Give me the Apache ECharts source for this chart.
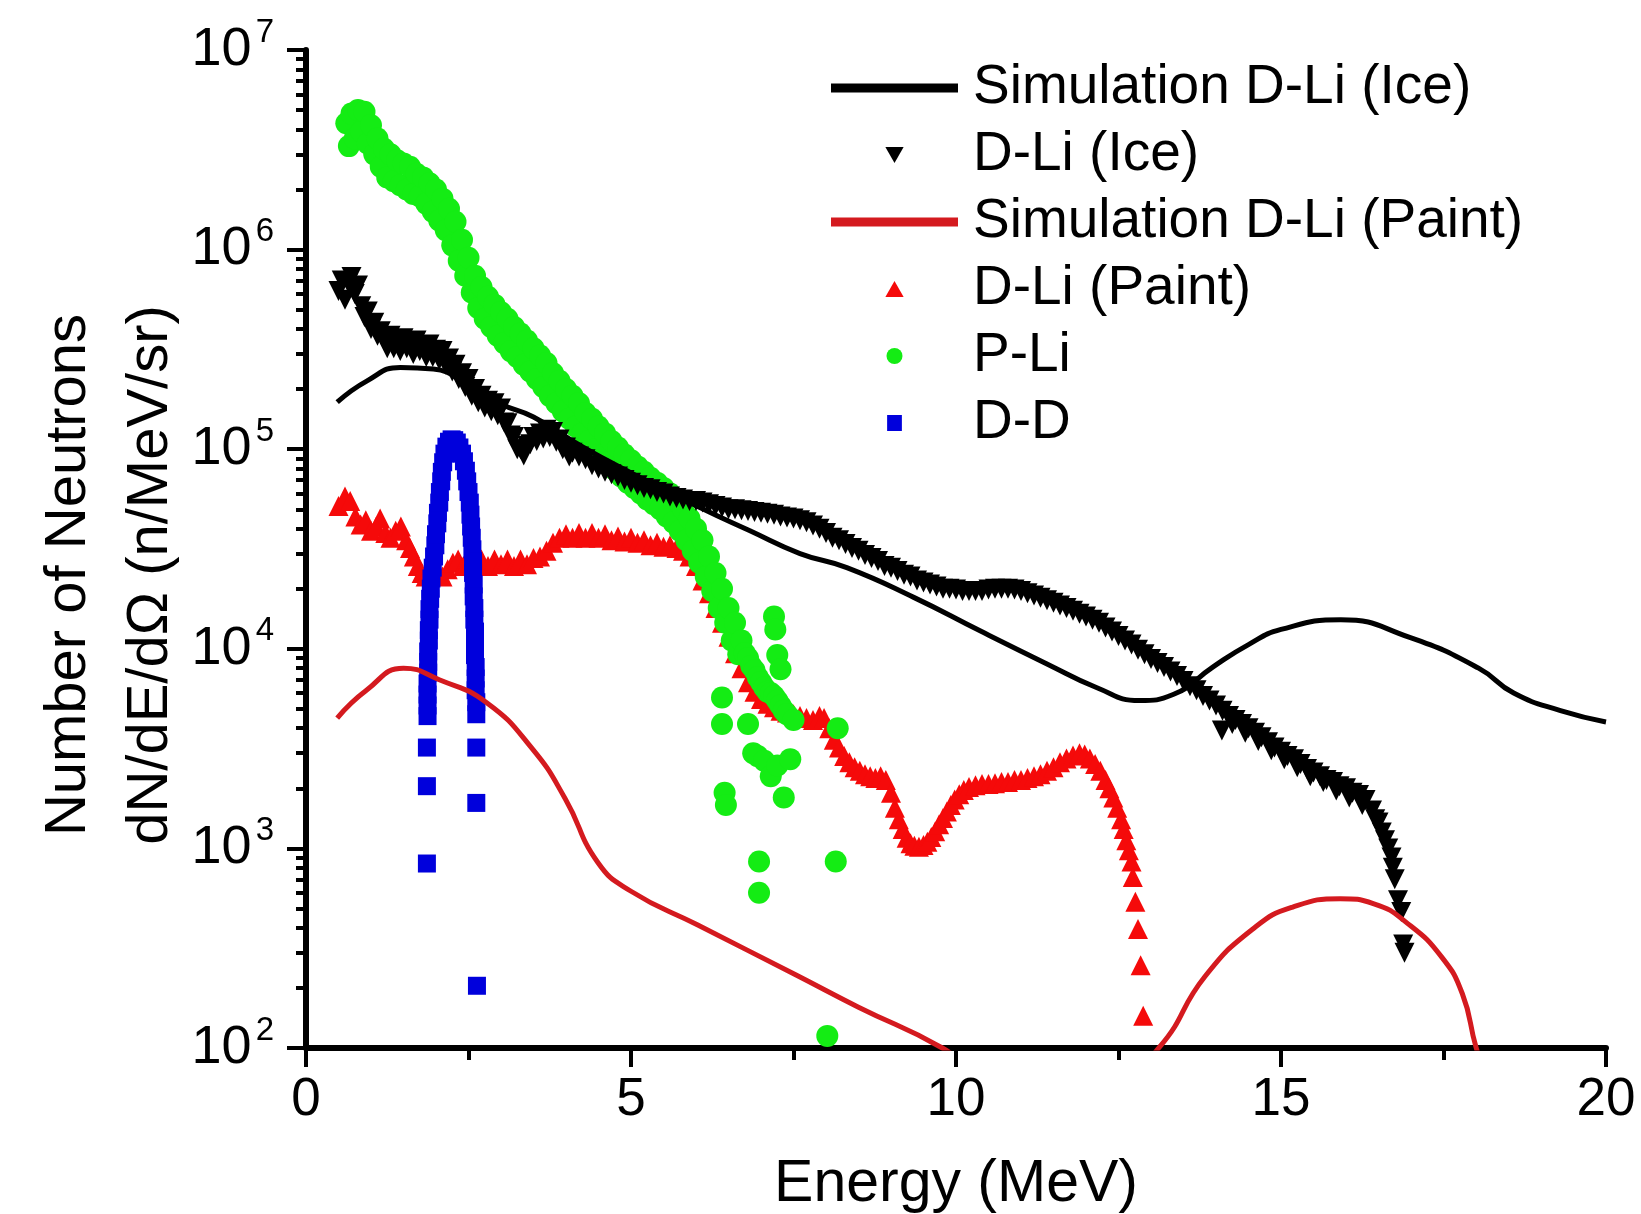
<!DOCTYPE html>
<html>
<head>
<meta charset="utf-8">
<script src="https://cdn.jsdelivr.net/npm/echarts@6/dist/echarts.min.js"></script>
<style>
html,body{margin:0;padding:0;background:#fff;}
#chart{width:1641px;height:1214px;}
</style>
</head>
<body>
<div id="chart"></div>
<script>
// ---------- data (Energy in MeV, dN/dE/dΩ) ----------
const seriesNames = ['Simulation D-Li (Ice)','D-Li (Ice)','Simulation D-Li (Paint)','D-Li (Paint)','P-Li','D-D'];

const simIce = [[0.48,1.72e5],[0.94,2.2e5],[1.45,2.57e5],[1.96,2.52e5],[2.48,2.12e5],[2.99,1.69e5],[3.5,1.45e5],[4.27,1.02e5],[5.04,7.5e4],[6.06,5.1e4],[6.83,3.9e4],[7.6,3.0e4],[8.32,2.55e4],[9.35,1.81e4],[10.37,1.23e4],[11.4,8.4e3],[12.16,6.4e3],[12.82,5.5e3],[13.34,5.9e3],[13.95,8.1e3],[14.5,1.05e4],[15.0,1.25e4],[15.92,1.4e4],[16.98,1.14e4],[18.04,8.0e3],[18.58,6.0e3],[19.3,4.9e3],[20,4.3e3]];

const simPaint = [[0.48,4.5e3],[0.93,6.2e3],[1.5,8.0e3],[2.05,7.0e3],[2.77,5.4e3],[3.48,3.16e3],[3.99,1.77e3],[4.49,8.5e2],[5.0,6.1e2],[6.02,4.14e2],[7.54,2.32e2],[8.5,1.6e2],[9.79,1.0e2],[11.0,55],[12.2,55],[13.13,1.01e2],[13.83,2.28e2],[14.61,4.05e2],[15.18,5.08e2],[15.91,5.6e2],[16.43,5.28e2],[16.95,4.2e2],[17.47,2.86e2],[17.79,1.87e2],[18.0,1.01e2],[18.3,50]];

const dliIce = [[0.5,6.2e5],[0.55,7.0e5],[0.6,5.6e5],[0.65,6.8e5],[0.7,7.3e5],[0.75,6.0e5],[0.8,6.6e5],[0.85,5.2e5],[0.9,4.6e5],[0.95,4.9e5],[1.0,4.0e5],[1.05,4.3e5],[1.1,3.7e5],[1.15,3.9e5],[1.2,3.5e5],[1.25,3.2e5],[1.3,3.7e5],[1.35,3.2e5],[1.4,3.5e5],[1.45,3.1e5],[1.5,3.6e5],[1.55,3.2e5],[1.6,3.4e5],[1.65,3.0e5],[1.7,3.5e5],[1.75,3.1e5],[1.8,3.3e5],[1.85,2.9e5],[1.9,3.35e5],[1.95,2.9e5],[2.0,3.15e5],[2.05,2.8e5],[2.1,3.1e5],[2.15,2.65e5],[2.2,2.85e5],[2.25,2.45e5],[2.3,2.65e5],[2.35,2.25e5],[2.4,2.4e5],[2.45,2.05e5],[2.5,2.25e5],[2.55,1.85e5],[2.6,2.0e5],[2.65,1.72e5],[2.7,1.85e5],[2.75,1.62e5],[2.8,1.75e5],[2.85,1.55e5],[2.9,1.7e5],[2.95,1.48e5],[3.0,1.6e5],[3.05,1.36e5],[3.1,1.35e5],[3.15,1.17e5],[3.2,1.15e5],[3.25,1.0e5],[3.3,1.0e5],[3.35,9.3e4],[3.4,1.04e5],[3.45,1.06e5],[3.5,1.15e5],[3.55,1.1e5],[3.6,1.2e5],[3.65,1.13e5],[3.7,1.25e5],[3.75,1.15e5],[3.8,1.22e5],[3.85,1.09e5],[3.9,1.12e5],[3.95,1.0e5],[4.0,1.02e5],[4.05,9.2e4],[4.1,9.6e4],[4.2,9.2e4],[4.3,8.9e4],[4.4,8.3e4],[4.5,8.0e4],[4.6,7.7e4],[4.7,7.5e4],[4.8,7.3e4],[4.9,7.0e4],[5.0,6.8e4],[5.1,6.6e4],[5.2,6.4e4],[5.3,6.3e4],[5.4,6.1e4],[5.5,6.0e4],[5.6,5.8e4],[5.7,5.7e4],[5.8,5.6e4],[5.9,5.5e4],[6.0,5.5e4],[6.1,5.4e4],[6.2,5.3e4],[6.3,5.2e4],[6.4,5.1e4],[6.5,5.0e4],[6.6,5.0e4],[6.7,4.95e4],[6.8,4.9e4],[6.9,4.85e4],[7.0,4.8e4],[7.1,4.75e4],[7.2,4.7e4],[7.3,4.6e4],[7.4,4.55e4],[7.5,4.5e4],[7.6,4.4e4],[7.7,4.3e4],[7.8,4.15e4],[7.9,4.0e4],[8.0,3.8e4],[8.1,3.6e4],[8.2,3.5e4],[8.3,3.35e4],[8.4,3.2e4],[8.5,3.1e4],[8.6,2.95e4],[8.7,2.85e4],[8.8,2.75e4],[8.9,2.6e4],[9.0,2.55e4],[9.1,2.45e4],[9.2,2.35e4],[9.3,2.3e4],[9.4,2.2e4],[9.5,2.15e4],[9.6,2.1e4],[9.7,2.05e4],[9.8,2.0e4],[9.9,2.0e4],[10.0,1.98e4],[10.1,1.95e4],[10.2,1.95e4],[10.3,1.95e4],[10.4,1.95e4],[10.5,1.98e4],[10.6,2.0e4],[10.7,2.0e4],[10.8,2.0e4],[10.9,1.98e4],[11.0,1.95e4],[11.1,1.9e4],[11.2,1.85e4],[11.3,1.8e4],[11.4,1.75e4],[11.5,1.7e4],[11.6,1.65e4],[11.7,1.6e4],[11.8,1.55e4],[11.9,1.5e4],[12.0,1.45e4],[12.1,1.4e4],[12.2,1.35e4],[12.3,1.28e4],[12.4,1.22e4],[12.5,1.16e4],[12.6,1.1e4],[12.7,1.05e4],[12.8,9.9e3],[12.9,9.4e3],[13.0,8.9e3],[13.1,8.5e3],[13.2,8.1e3],[13.3,7.7e3],[13.4,7.3e3],[13.5,6.9e3],[13.6,6.5e3],[13.7,6.2e3],[13.8,5.8e3],[13.9,5.5e3],[14.0,5.2e3],[14.09,3.9e3],[14.1,4.9e3],[14.2,4.6e3],[14.25,4.2e3],[14.3,4.4e3],[14.4,4.2e3],[14.45,3.8e3],[14.5,4.0e3],[14.6,3.8e3],[14.65,3.45e3],[14.7,3.6e3],[14.8,3.4e3],[14.85,3.1e3],[14.9,3.2e3],[15.0,3.05e3],[15.05,2.8e3],[15.1,2.9e3],[15.2,2.8e3],[15.25,2.55e3],[15.3,2.65e3],[15.4,2.5e3],[15.45,2.3e3],[15.5,2.4e3],[15.6,2.3e3],[15.65,2.15e3],[15.7,2.2e3],[15.8,2.15e3],[15.85,1.95e3],[15.9,2.05e3],[16.0,2.0e3],[16.05,1.8e3],[16.1,1.9e3],[16.2,1.85e3],[16.25,1.65e3],[16.3,1.75e3],[16.4,1.55e3],[16.45,1.4e3],[16.5,1.35e3],[16.55,1.2e3],[16.6,1.1e3],[16.65,1.0e3],[16.7,9.0e2],[16.72,8.0e2],[16.75,7.0e2],[16.8,5.5e2],[16.85,4.8e2],[16.88,3.3e2],[16.9,3.0e2]];

const dliPaint = [[0.5,5.2e4],[0.6,5.8e4],[0.68,5.5e4],[0.76,4.6e4],[0.84,4.2e4],[0.92,4.4e4],[1.0,3.9e4],[1.08,4.1e4],[1.14,4.5e4],[1.22,3.8e4],[1.3,3.6e4],[1.38,3.9e4],[1.46,4.1e4],[1.54,3.5e4],[1.6,3.2e4],[1.66,2.9e4],[1.72,2.6e4],[1.78,2.4e4],[1.84,2.3e4],[1.9,2.5e4],[1.96,2.7e4],[2.02,2.4e4],[2.1,2.3e4],[2.18,2.5e4],[2.26,2.7e4],[2.34,2.8e4],[2.42,2.6e4],[2.5,2.8e4],[2.6,2.6e4],[2.7,2.8e4],[2.8,2.6e4],[2.9,2.8e4],[3.0,2.65e4],[3.1,2.8e4],[3.2,2.6e4],[3.3,2.8e4],[3.4,2.65e4],[3.5,2.85e4],[3.6,2.9e4],[3.7,3.1e4],[3.8,3.4e4],[3.9,3.6e4],[4.0,3.75e4],[4.1,3.6e4],[4.2,3.8e4],[4.3,3.6e4],[4.4,3.8e4],[4.5,3.6e4],[4.6,3.75e4],[4.7,3.5e4],[4.8,3.65e4],[4.9,3.45e4],[5.0,3.6e4],[5.1,3.4e4],[5.2,3.5e4],[5.3,3.3e4],[5.4,3.4e4],[5.5,3.25e4],[5.6,3.3e4],[5.7,3.2e4],[5.8,3.1e4],[5.9,2.9e4],[6.0,2.6e4],[6.1,2.2e4],[6.2,1.9e4],[6.3,1.6e4],[6.4,1.35e4],[6.5,1.15e4],[6.6,9.5e3],[6.7,8.0e3],[6.8,6.8e3],[6.9,6.1e3],[7.0,5.6e3],[7.1,5.3e3],[7.2,5.1e3],[7.3,4.9e3],[7.4,4.8e3],[7.5,4.7e3],[7.6,4.6e3],[7.7,4.5e3],[7.8,4.4e3],[7.9,4.6e3],[7.97,4.5e3],[8.05,4.0e3],[8.12,3.5e3],[8.2,3.2e3],[8.28,2.9e3],[8.36,2.7e3],[8.44,2.55e3],[8.52,2.45e3],[8.6,2.35e3],[8.68,2.3e3],[8.76,2.25e3],[8.84,2.3e3],[8.92,2.2e3],[9.0,1.9e3],[9.06,1.6e3],[9.12,1.4e3],[9.18,1.25e3],[9.24,1.13e3],[9.3,1.06e3],[9.36,1.03e3],[9.43,1.02e3],[9.5,1.04e3],[9.56,1.08e3],[9.62,1.14e3],[9.68,1.22e3],[9.74,1.32e3],[9.8,1.42e3],[9.86,1.53e3],[9.92,1.65e3],[9.98,1.76e3],[10.05,1.87e3],[10.12,1.96e3],[10.2,2.03e3],[10.3,2.07e3],[10.4,2.1e3],[10.5,2.1e3],[10.6,2.12e3],[10.7,2.15e3],[10.8,2.15e3],[10.9,2.2e3],[11.0,2.2e3],[11.1,2.25e3],[11.2,2.3e3],[11.3,2.35e3],[11.4,2.45e3],[11.5,2.55e3],[11.6,2.7e3],[11.7,2.82e3],[11.8,2.92e3],[11.9,3.0e3],[11.98,2.95e3],[12.06,2.82e3],[12.14,2.65e3],[12.22,2.45e3],[12.3,2.2e3],[12.36,2.0e3],[12.42,1.8e3],[12.48,1.6e3],[12.54,1.4e3],[12.58,1.25e3],[12.62,1.1e3],[12.66,9.8e2],[12.7,8.6e2],[12.72,7.2e2],[12.76,5.4e2],[12.8,3.95e2],[12.84,2.6e2],[12.88,1.45e2]];

const pli = [[0.62,4.3e6],[0.66,3.3e6],[0.7,4.8e6],[0.75,3.6e6],[0.8,5.0e6],[0.85,3.9e6],[0.9,4.9e6],[0.95,3.4e6],[1.0,4.2e6],[1.05,3.0e6],[1.1,3.6e6],[1.15,2.6e6],[1.2,3.2e6],[1.25,2.3e6],[1.3,3.0e6],[1.35,2.2e6],[1.4,2.8e6],[1.45,2.1e6],[1.5,2.7e6],[1.55,2.0e6],[1.6,2.6e6],[1.65,1.9e6],[1.7,2.4e6],[1.75,1.85e6],[1.8,2.3e6],[1.85,1.7e6],[1.9,2.15e6],[1.95,1.55e6],[2.0,2.0e6],[2.05,1.4e6],[2.1,1.8e6],[2.15,1.25e6],[2.2,1.6e6],[2.25,1.05e6],[2.3,1.38e6],[2.35,8.8e5],[2.4,1.12e6],[2.45,7.4e5],[2.5,9.1e5],[2.55,6.1e5],[2.6,7.4e5],[2.65,5.1e5],[2.7,6.5e5],[2.75,4.5e5],[2.8,5.8e5],[2.85,4.1e5],[2.9,5.3e5],[2.95,3.7e5],[3.0,4.85e5],[3.05,3.4e5],[3.1,4.5e5],[3.15,3.1e5],[3.2,4.1e5],[3.25,2.9e5],[3.3,3.8e5],[3.35,2.65e5],[3.4,3.5e5],[3.45,2.45e5],[3.5,3.2e5],[3.55,2.25e5],[3.6,2.95e5],[3.65,2.05e5],[3.7,2.7e5],[3.75,1.85e5],[3.8,2.4e5],[3.85,1.7e5],[3.9,2.2e5],[3.95,1.55e5],[4.0,2.0e5],[4.05,1.42e5],[4.1,1.85e5],[4.15,1.3e5],[4.2,1.7e5],[4.25,1.2e5],[4.3,1.52e5],[4.35,1.1e5],[4.4,1.42e5],[4.45,1.0e5],[4.5,1.3e5],[4.55,9.3e4],[4.6,1.2e5],[4.65,8.6e4],[4.7,1.1e5],[4.75,7.9e4],[4.8,1.02e5],[4.85,7.3e4],[4.9,9.4e4],[4.95,6.8e4],[5.0,8.8e4],[5.05,6.4e4],[5.1,8.2e4],[5.15,6.0e4],[5.2,7.7e4],[5.25,5.6e4],[5.3,7.2e4],[5.35,5.3e4],[5.4,6.8e4],[5.45,5.0e4],[5.5,6.4e4],[5.55,4.6e4],[5.6,6.0e4],[5.65,4.3e4],[5.7,5.5e4],[5.75,3.9e4],[5.8,5.0e4],[5.85,3.5e4],[5.9,4.5e4],[5.95,3.1e4],[6.0,4.0e4],[6.05,2.7e4],[6.1,3.5e4],[6.15,2.3e4],[6.2,2.9e4],[6.25,1.95e4],[6.3,2.4e4],[6.35,1.6e4],[6.4,2.0e4],[6.45,1.35e4],[6.5,1.6e4],[6.55,1.1e4],[6.6,1.35e4],[6.65,9.4e3],[6.7,1.1e4],[6.75,9.5e3],[6.8,9.0e3],[6.85,8.2e3],[6.9,7.8e3],[6.95,7.2e3],[7.0,6.8e3],[7.05,6.4e3],[7.1,6.1e3],[7.15,6.0e3],[7.2,5.8e3],[7.25,5.5e3],[7.3,5.2e3],[7.35,4.9e3],[7.4,4.7e3],[7.5,4.4e3],
[6.4,5.7e3],[6.4,4.2e3],[6.44,1.9e3],[6.46,1.65e3],[6.8,4.2e3],[6.88,3.0e3],[6.95,2.9e3],[7.05,2.75e3],[7.15,2.3e3],[7.25,2.6e3],[7.35,1.8e3],[7.45,2.8e3],[6.97,8.6e2],[6.97,6.0e2],[7.2,1.45e4],[7.22,1.25e4],[7.25,9.3e3],[7.3,7.9e3],[8.18,4.0e3],[8.15,8.6e2],[8.02,1.15e2]];

const dd = [[1.86,840],[1.86,2050],[1.86,3200],[1.87,4600],[1.87,5200],[1.87,5900],[1.87,6700],[1.88,7600],[1.88,8600],[1.88,9700],[1.89,11000],[1.89,12400],[1.9,14000],[1.9,15800],[1.91,17800],[1.92,20000],[1.93,22500],[1.95,25500],[1.97,29000],[1.99,33000],[2.0,37500],[2.02,42500],[2.03,48000],[2.05,54000],[2.06,61000],[2.08,69000],[2.09,77000],[2.11,86000],[2.13,95000],[2.16,103000],[2.2,109000],[2.24,112000],[2.28,111000],[2.32,108000],[2.36,102000],[2.4,95000],[2.43,87000],[2.46,78000],[2.48,69000],[2.5,61000],[2.52,54000],[2.53,47000],[2.54,41000],[2.55,36000],[2.56,31500],[2.57,27500],[2.57,24000],[2.58,21000],[2.58,18300],[2.59,16000],[2.59,14000],[2.6,12200],[2.6,10700],[2.6,9300],[2.61,8100],[2.61,7100],[2.61,6200],[2.62,5400],[2.62,4700],[2.62,3200],[2.62,1690],[2.63,205]];

// ---------- axis ticks / labels ----------
const xTickInterval = 5;
const yMajorTicks = [1e2,1e3,1e4,1e5,1e6,1e7];
const yTickExponents = ['2','3','4','5','6','7'];
const yMinorTicks = [2e2,3e2,4e2,5e2,6e2,7e2,8e2,9e2,2e3,3e3,4e3,5e3,6e3,7e3,8e3,9e3,2e4,3e4,4e4,5e4,6e4,7e4,8e4,9e4,2e5,3e5,4e5,5e5,6e5,7e5,8e5,9e5,2e6,3e6,4e6,5e6,6e6,7e6,8e6,9e6];
const xTitle = 'Energy (MeV)';
const yTitleLines = ['Number of Neutrons','dN/dE/dΩ (n/MeV/sr)'];

// ---------- chart ----------
const FONT = '"Liberation Sans", Arial, sans-serif';
const chart = echarts.init(document.getElementById('chart'), null, {renderer:'canvas'});
const LINE_ICON = 'path://M0 0H127V9H0Z';
const TRI_DOWN_ICON = 'path://M0 0H16L8 14Z';
const TRI_UP_ICON = 'path://M8 0L16 14H0Z';
const SQUARE_ICON = 'path://M0 0H12V13H0Z';

const option = {
  animation: false,
  backgroundColor: '#fff',
  grid: {left: 306, right: 35, top: 50, bottom: 166, containLabel: false, outerBoundsMode: 'none'},
  legend: {
    orient: 'vertical',
    left: 826, top: 53,
    itemWidth: 127, itemHeight: 16, itemGap: 7,
    selectedMode: false,
    symbolKeepAspect: true,
    symbolRotate: 0,
    data: [
      {name: seriesNames[0], icon: LINE_ICON},
      {name: seriesNames[1], icon: TRI_DOWN_ICON},
      {name: seriesNames[2], icon: LINE_ICON},
      {name: seriesNames[3], icon: TRI_UP_ICON},
      {name: seriesNames[4], icon: 'circle'},
      {name: seriesNames[5], icon: SQUARE_ICON}
    ],
    textStyle: {fontFamily: FONT, fontSize: 55, color: '#000', lineHeight: 60, padding: [0,0,0,10]}
  },
  xAxis: {
    type: 'value', min: 0, max: 20, interval: xTickInterval,
    name: xTitle, nameLocation: 'middle', nameGap: 107, nameMoveOverlap: false,
    nameTextStyle: {fontFamily: FONT, fontSize: 59, color: '#000'},
    axisLine: {show: true, lineStyle: {color: '#000', width: 6}},
    axisTick: {show: true, length: 19, lineStyle: {color: '#000', width: 4}},
    minorTick: {show: true, splitNumber: 2, length: 12, lineStyle: {color: '#000', width: 4}},
    axisLabel: {fontFamily: FONT, fontSize: 53, color: '#000', margin: 26},
    splitLine: {show: false}
  },
  yAxis: [{
    type: 'log', logBase: 10, min: 1e2, max: 1e7,
    name: yTitleLines.join('\n'), nameLocation: 'middle', nameGap: 114, nameRotate: 90, nameMoveOverlap: false,
    nameTextStyle: {fontFamily: FONT, fontSize: 58, color: '#000', lineHeight: 82, padding: [0, 52, 0, 0]},
    axisLine: {show: true, lineStyle: {color: '#000', width: 6}},
    axisTick: {show: true, length: 19, lineStyle: {color: '#000', width: 4}},
    axisLabel: {
      margin: 32,
      formatter: function (v) {
        const i = yMajorTicks.findIndex(t => Math.abs(Math.log10(t) - Math.log10(v)) < 1e-6);
        return '{b|10}{s|' + (i >= 0 ? yTickExponents[i] : '') + '}';
      },
      rich: {
        b: {fontFamily: FONT, fontSize: 54, color: '#000', lineHeight: 68, verticalAlign: 'middle'},
        s: {fontFamily: FONT, fontSize: 33, color: '#000', lineHeight: 33, verticalAlign: 'top', padding: [0,0,0,4]}
      }
    },
    splitLine: {show: false}
  }, {
    type: 'log', logBase: 10, min: 1e2, max: 1e7, position: 'left',
    axisLine: {show: false},
    axisLabel: {show: false},
    axisTick: {show: true, customValues: yMinorTicks, length: 10, lineStyle: {color: '#000', width: 4}},
    splitLine: {show: false}
  }],
  series: [
    {name: seriesNames[0], type: 'line', data: simIce, smooth: true, symbol: 'none', showSymbol: false, symbolKeepAspect: true,
     lineStyle: {color: '#000', width: 5}, itemStyle: {color: '#000'}, clip: true},
    {name: seriesNames[2], type: 'line', data: simPaint, smooth: true, symbol: 'none', showSymbol: false, symbolKeepAspect: true,
     lineStyle: {color: '#d41a1f', width: 5}, itemStyle: {color: '#d41a1f'}, clip: true},
    {name: seriesNames[3], type: 'scatter', data: dliPaint, symbol: 'triangle', symbolSize: 20, symbolKeepAspect: true,
     itemStyle: {color: '#f50a0a', opacity: 1}},
    {name: seriesNames[4], type: 'scatter', data: pli, symbol: 'circle', symbolSize: 22, symbolKeepAspect: true,
     itemStyle: {color: '#14ec14', opacity: 1}},
    {name: seriesNames[1], type: 'scatter', data: dliIce, symbol: 'triangle', symbolRotate: 180, symbolSize: 20, symbolKeepAspect: true,
     itemStyle: {color: '#000', opacity: 1}},
    {name: seriesNames[5], type: 'scatter', data: dd, symbol: 'rect', symbolSize: 18, symbolKeepAspect: true,
     itemStyle: {color: '#0000dc', opacity: 1}}
  ]
};
chart.setOption(option);
</script>
</body>
</html>
